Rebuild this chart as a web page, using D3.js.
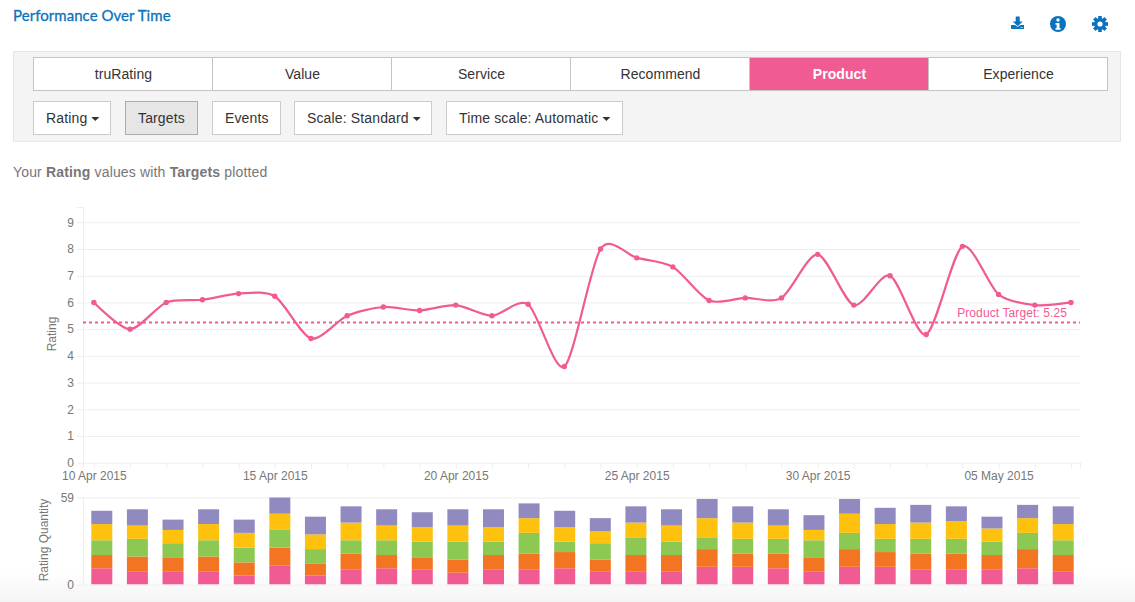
<!DOCTYPE html>
<html lang="en">
	<head>
		<meta charset="utf-8">
		<title>Performance Over Time</title>
		<script type="text/javascript" src="https://cdn.jsdelivr.net/npm/d3@7"></script>
		<style type="text/css">
			html, body { margin: 0; padding: 0; background: #fff; overflow: hidden; }
			text { font-family: "Liberation Sans", Arial, sans-serif; }
			svg { display: block; }
		</style>
	</head>
	<body>
	<script>

		//Values
		var startDate = "2015-04-10";
		var ratings = [6.0, 5.0, 6.0, 6.1, 6.33, 6.23, 4.65, 5.5, 5.83, 5.7, 5.9, 5.5, 5.93, 3.6,
			8.0, 7.67, 7.33, 6.07, 6.17, 6.17, 7.8, 5.9, 7.0, 4.8, 8.1, 6.3, 5.9, 6.0];
		var targetValue = 5.25;
		var targetLabel = "Product Target: 5.25";

		var qtyPink   = [11, 9, 9, 9, 6, 13, 6, 10, 11, 10, 8, 10, 10, 11, 9, 9, 9, 12, 12, 11, 9, 12, 12, 10, 10, 10, 11, 9];
		var qtyOrange = [9, 10, 9, 10, 9, 12, 8, 11, 9, 8, 9, 10, 11, 11, 8, 11, 11, 12, 9, 10, 9, 12, 10, 11, 11, 10, 13, 11];
		var qtyGreen  = [10, 12, 10, 11, 10, 12, 10, 9, 10, 11, 12, 9, 14, 7, 11, 12, 9, 8, 10, 10, 12, 11, 9, 10, 10, 9, 11, 10];
		var qtyYellow = [11, 9, 9, 11, 10, 11, 10, 12, 10, 10, 11, 10, 10, 10, 8, 10, 11, 13, 11, 9, 7, 13, 10, 11, 12, 9, 10, 11];
		var qtyPurple = [9, 11, 7, 10, 9, 11, 12, 11, 11, 10, 11, 12, 10, 11, 9, 11, 11, 13, 11, 11, 10, 10, 11, 12, 10, 8, 9, 12];

		var ratingTicks = [0, 1, 2, 3, 4, 5, 6, 7, 8, 9];
		var qtyTicks = [0, 59];

		var tabNames = ["truRating", "Value", "Service", "Recommend", "Product", "Experience"];
		var activeTab = "Product";
		var buttonNames = ["Rating", "Targets", "Events", "Scale: Standard", "Time scale: Automatic"];
		var buttonCarets = [true, false, false, true, true];
		var buttonLefts = [33, 125, 212, 294, 446];
		var buttonRights = [111, 198, 281, 432, 623];

		var w = 1135;
		var h = 602;
		var blue = "#0a73bc";
		var pink = "#f15b93";
		var grey = "#777";
		var grid = "#eeeeee";
		var qtyColors = ["#f15b93", "#f47521", "#8dc853", "#fec20e", "#918ac0"];

		var day = 86400000;
		var dates = ratings.map(function(d, i){ return new Date(Date.parse(startDate) + i * day); });
		var fmt = d3.utcFormat("%d %b %Y");

		var svg = d3.select("body").append("svg").attr("width", w).attr("height", h);

		//Fade at the bottom of the page
		var grad = svg.append("defs").append("linearGradient")
			.attr("id", "fade").attr("x1", 0).attr("x2", 0).attr("y1", 0).attr("y2", 1);
		grad.append("stop").attr("offset", "0").attr("stop-color", "#fff");
		grad.append("stop").attr("offset", "1").attr("stop-color", "#f4f4f4");
		svg.append("rect").attr("x", 0).attr("y", 572).attr("width", w).attr("height", 30).attr("fill", "url(#fade)");

		//Header
		svg.append("text").text("Performance Over Time")
			.attr("x", 13).attr("y", 21)
			.style("font-family", "Lato").style("font-size", "15px").style("letter-spacing", "0.05px")
			.attr("fill", blue).attr("stroke", blue).attr("stroke-width", 0.3);

		//Download icon
		var icons = svg.append("g").attr("fill", blue);
		icons.append("path").attr("d", "M1015.7 16.5h4v5h3l-5 4.8-5-4.8h3z");
		icons.append("path").attr("d", "M1011 25h4l2.7 2 2.7-2h3.6v4h-13z");
		icons.append("rect").attr("x", 1020.5).attr("y", 27).attr("width", 2.2).attr("height", 0.8).attr("fill", "#cfe3f2");

		//Info icon
		icons.append("circle").attr("cx", 1058).attr("cy", 24).attr("r", 8);
		icons.append("circle").attr("cx", 1058).attr("cy", 20).attr("r", 1.7).attr("fill", "#fff");
		icons.append("path").attr("d", "M1055.5 23h4v5h1v1.7h-5v-1.7h1.2v-3.3h-1.2z").attr("fill", "#fff");

		//Gear icon
		icons.append("g").selectAll("line").data(d3.range(8)).enter().append("line")
			.attr("x1", 1100).attr("y1", 24).attr("x2", 1100).attr("y2", 16)
			.attr("stroke", blue).attr("stroke-width", 3.6)
			.attr("transform", function(d){ return "rotate(" + (d * 45) + " 1100 24)"; });
		icons.append("circle").attr("cx", 1100).attr("cy", 24).attr("r", 6);
		icons.append("circle").attr("cx", 1100).attr("cy", 24).attr("r", 2.6).attr("fill", "#fff");

		//Control panel
		svg.append("rect").attr("x", 13.5).attr("y", 51.5).attr("width", 1107).attr("height", 90)
			.attr("fill", "#f4f4f4").attr("stroke", "#e6e6e6");

		var tabX = d3.scaleBand().domain(tabNames).range([34, 1108]);

		var tabs = svg.selectAll(".tab").data(tabNames).enter().append("g").attr("class", "tab");
		tabs.append("rect")
			.attr("x", function(d, i){ return tabX(d) + (i == 0 ? -0.5 : -0.5); })
			.attr("y", 57.5)
			.attr("width", tabX.bandwidth())
			.attr("height", 33)
			.attr("fill", function(d){ return d == activeTab ? pink : "#fff"; })
			.attr("stroke", "#c4c4c4");
		tabs.append("text").text(function(d){ return d; })
			.attr("x", function(d){ return tabX(d) + tabX.bandwidth() / 2; })
			.attr("y", 79)
			.attr("text-anchor", "middle")
			.style("font-size", "14px")
			.style("letter-spacing", "0.06px")
			.style("font-weight", function(d){ return d == activeTab ? "bold" : "normal"; })
			.attr("fill", function(d){ return d == activeTab ? "#fff" : "#333"; });

		var buttons = svg.selectAll(".btn").data(buttonNames).enter().append("g").attr("class", "btn");
		buttons.append("rect")
			.attr("x", function(d, i){ return buttonLefts[i] + 0.5; })
			.attr("y", 101.5)
			.attr("width", function(d, i){ return buttonRights[i] - buttonLefts[i] - 1; })
			.attr("height", 33)
			.attr("fill", function(d){ return d == "Targets" ? "#e6e6e6" : "#fff"; })
			.attr("stroke", function(d){ return d == "Targets" ? "#adadad" : "#ccc"; });
		buttons.append("text").text(function(d){ return d; })
			.attr("x", function(d, i){ return buttonLefts[i] + 13; })
			.attr("y", 123)
			.style("font-size", "14px")
			.style("letter-spacing", "0.14px")
			.attr("fill", "#333");
		buttons.filter(function(d, i){ return buttonCarets[i]; }).append("path")
			.attr("d", function(){
				var t = d3.select(this.parentNode).select("text");
				var x = +t.attr("x") + t.node().getComputedTextLength() + 4;
				return "M" + x + " 117h8l-4 4z";
			})
			.attr("fill", "#333");

		//Sub title
		var sub = svg.append("text").attr("x", 13).attr("y", 177)
			.style("font-size", "14px").style("letter-spacing", "0.16px").attr("fill", grey);
		sub.append("tspan").text("Your ");
		sub.append("tspan").text("Rating").style("font-weight", "bold");
		sub.append("tspan").text(" values with ");
		sub.append("tspan").text("Targets").style("font-weight", "bold");
		sub.append("tspan").text(" plotted");

		//Scales
		var x = d3.scaleUtc()
			.domain([new Date(+dates[0] - 0.3 * day), new Date(+dates[dates.length - 1] + 0.25 * day)])
			.range([83, 1080]);
		var y = d3.scaleLinear().domain([0, 9]).range([462.7, 222.3]);

		function styleAxis(g){
			g.select(".domain").remove();
			g.selectAll("text").attr("fill", grey).style("font-size", "12px");
			g.selectAll("line").attr("stroke", grid);
		}

		//Rating axes
		svg.append("g").attr("transform", "translate(83,0)")
			.call(d3.axisLeft(y).tickValues(ratingTicks).tickSize(6).tickPadding(3).tickFormat(d3.format("d")))
			.call(styleAxis)
			.selectAll("line").attr("x2", 997).attr("x1", -6);

		//Axis line with its small cap above the 9
		svg.append("path").attr("d", "M77 207.5H83.5V468")
			.attr("fill", "none").attr("stroke", grid);

		var xTicks = dates.concat([x.domain()[1]]);
		svg.append("g").attr("transform", "translate(0,462.7)")
			.call(d3.axisBottom(x).tickValues(xTicks).tickSize(6).tickPadding(3).tickFormat(function(d, i){
				return i % 5 == 0 && i < dates.length ? fmt(d) : "";
			}))
			.call(styleAxis);

		svg.append("text").text("Rating")
			.attr("transform", "translate(56,334) rotate(-90)")
			.attr("text-anchor", "middle").style("font-size", "12px").attr("fill", grey);

		//Target
		svg.append("line")
			.attr("x1", x.range()[0]).attr("x2", x.range()[1])
			.attr("y1", y(targetValue)).attr("y2", y(targetValue))
			.attr("stroke", pink).attr("stroke-width", 2).attr("stroke-dasharray", "3,3");
		svg.append("text").text(targetLabel)
			.attr("x", 1067).attr("y", y(targetValue) - 5)
			.attr("text-anchor", "end").style("font-size", "12px").style("letter-spacing", "0.1px").attr("fill", pink);

		//Rating line
		var line = d3.line()
			.x(function(d, i){ return x(dates[i]); })
			.y(function(d){ return y(d); })
			.curve(d3.curveCardinal.tension(0.2));

		svg.append("path").datum(ratings)
			.attr("d", line)
			.attr("fill", "none").attr("stroke", pink).attr("stroke-width", 2.2);

		svg.selectAll(".pt").data(ratings).enter().append("circle").attr("class", "pt")
			.attr("cx", function(d, i){ return x(dates[i]); })
			.attr("cy", function(d){ return y(d); })
			.attr("r", 2.7)
			.attr("fill", pink);

		//Quantity chart
		var keys = ["pink", "orange", "green", "yellow", "purple"];
		var qtySeries = [qtyPink, qtyOrange, qtyGreen, qtyYellow, qtyPurple];
		var rows = dates.map(function(d, i){
			var row = { date: d };
			keys.forEach(function(k, j){ row[k] = qtySeries[j][i]; });
			return row;
		});

		var band = d3.scaleBand().domain(dates).range([84, 1081]).paddingInner(0.41).paddingOuter(0.205);
		var yq = d3.scaleLinear().domain([0, 59]).range([584.5, 497.5]);

		svg.append("g").attr("transform", "translate(83,0)")
			.call(d3.axisLeft(yq).tickValues(qtyTicks).tickSize(6).tickPadding(3).tickFormat(d3.format("d")))
			.call(styleAxis)
			.selectAll("line").attr("x2", 997).attr("x1", -6);

		svg.append("line").attr("x1", 83.5).attr("x2", 83.5).attr("y1", 497).attr("y2", 585).attr("stroke", grid);

		svg.selectAll(".layer").data(d3.stack().keys(keys)(rows)).enter().append("g").attr("class", "layer")
			.attr("fill", function(d, i){ return qtyColors[i]; })
			.selectAll("rect").data(function(d){ return d; }).enter().append("rect")
			.attr("x", function(d){ return band(d.data.date); })
			.attr("width", band.bandwidth())
			.attr("y", function(d){ return yq(d[1]); })
			.attr("height", function(d){ return yq(d[0]) - yq(d[1]); });

		svg.append("line").attr("x1", 83).attr("x2", 1080).attr("y1", 584.5).attr("y2", 584.5)
			.attr("stroke", "#fff").attr("stroke-opacity", 0.4);

		svg.append("text").text("Rating Quantity")
			.attr("transform", "translate(48,540) rotate(-90)")
			.attr("text-anchor", "middle").style("font-size", "12px").attr("fill", grey);

	</script>
	</body>
</html>
